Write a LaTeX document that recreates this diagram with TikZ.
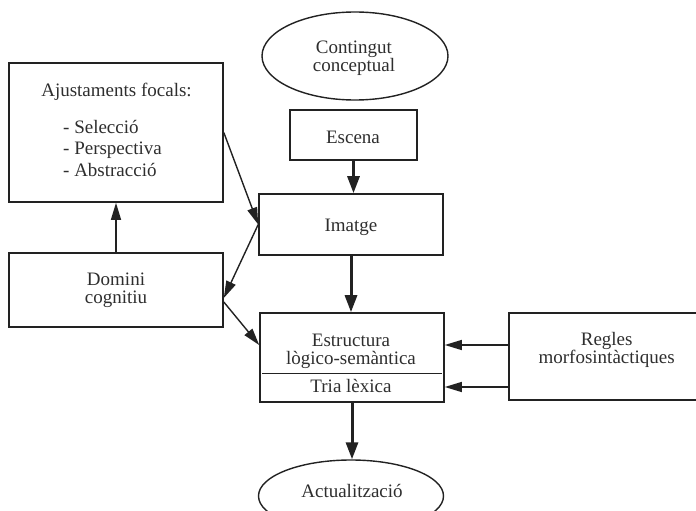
\documentclass[tikz,border=0pt]{standalone}
\usepackage{fontspec}
\setmainfont{Liberation Serif}
\usetikzlibrary{arrows.meta}
\usetikzlibrary{shapes.geometric}
\definecolor{linegray}{HTML}{222222}
\definecolor{textgray}{HTML}{2E2E2E}
\lineskiplimit=-100pt
\tikzset{
  box/.style={draw=linegray, line width=1.6pt, rectangle, inner sep=0pt},
  oval/.style={draw=linegray, line width=1.4pt, ellipse, inner sep=0pt},
  txt/.style={text=textgray, align=center, inner sep=0pt, font=\fontsize{19}{18}\selectfont},
  thinarrow/.style={draw=linegray, line width=1.4pt, -{Triangle[length=17pt,width=10pt]}},
  thickarrow/.style={draw=linegray, line width=3pt, -{Triangle[length=17pt,width=12pt]}},
}
\begin{document}
\begin{tikzpicture}[x=1pt,y=-1pt]
\clip (0,0) rectangle (696,511);
%%%
% frames
%%%
\node[oval, minimum width=186pt, minimum height=88pt] (cont) at (355,56) {};
\node[box, minimum width=127pt, minimum height=50pt] (escena) at (353.5,135) {};
\node[box, minimum width=214pt, minimum height=139pt] (ajust) at (116,132.5) {};
\node[box, minimum width=184pt, minimum height=61pt] (imatge) at (351,224.5) {};
\node[box, minimum width=214pt, minimum height=74pt] (domini) at (116,290) {};
\node[box, minimum width=184pt, minimum height=89pt] (estr) at (352,357.5) {};
\node[box, minimum width=196pt, minimum height=87pt] (regles) at (607,356.5) {};
\node[oval, minimum width=185pt, minimum height=72pt] (actual) at (351,496) {};
\draw[draw=linegray, line width=0.8pt] ([xshift=3pt,yshift=-15.5pt]estr.west) -- ([xshift=-3pt,yshift=-15.5pt]estr.east);
%%%
% texts
%%%
\node[txt] (cont-t) at (354,58) {Contingut\\conceptual};
\node[txt, anchor=base] (escena-t) at (353,143.3) {Escena};
\node[txt, anchor=base] (ajust-t) at (116.5,96.7) {Ajustaments focals:};
\node[txt, anchor=west, align=left, font=\fontsize{19}{21.3}\selectfont] (ajust-l) at (63,148.3) {- Selecció\\- Perspectiva\\- Abstracció};
\node[txt, anchor=base] (imatge-t) at (351,231.7) {Imatge};
\node[txt] (domini-t) at (116,290.1) {Domini\\cognitiu};
\node[txt] (estr-t) at (351,351) {Estructura\\lògico-semàntica};
\node[txt, anchor=base] (tria-t) at (351,392) {Tria lèxica};
\node[txt] (regles-t) at (606.7,349.8) {Regles\\morfosintàctiques};
\node[txt, anchor=base] (actual-t) at (352,497) {Actualització};
%%%
% arrows
%%%
\draw[thickarrow] (escena.south) -- (escena.south |- imatge.north);
\draw[thickarrow] (imatge.south) -- (imatge.south |- estr.north);
\draw[thickarrow] (estr.south) -- (estr.south |- actual.north);
\draw[thinarrow] (domini.north) -- (ajust.south);
\draw[thinarrow] (ajust.east) -- (imatge.west);
\draw[thinarrow] (imatge.west) -- ([yshift=-8pt]domini.east);
\draw[thinarrow] ([yshift=-12pt]domini.east) -- ([yshift=12.5pt]estr.west);
\draw[thinarrow] ([yshift=11.5pt]regles.west) -- ([yshift=12.5pt]estr.east);
\draw[thinarrow] ([yshift=-30.5pt]regles.west) -- ([yshift=-29.5pt]estr.east);
\end{tikzpicture}
\end{document}
